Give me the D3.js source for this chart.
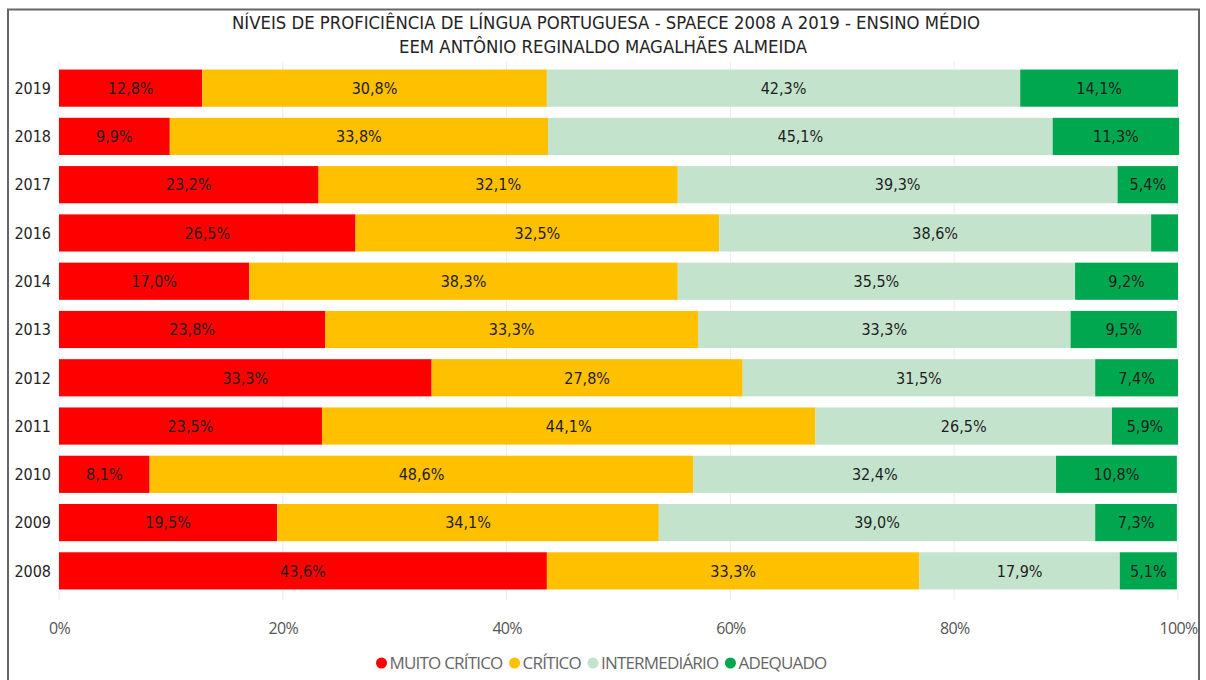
<!DOCTYPE html>
<html>
<head>
<meta charset="utf-8">
<script src="https://cdn.jsdelivr.net/npm/d3@7"></script>
<style>
  body { margin: 0; background: #fff; }
  svg { display: block; }
  .narrow { font-family: "Liberation Sans Narrow", "DejaVu Sans Condensed", "Roboto Condensed", sans-serif; }
</style>
</head>
<body>
<div id="chart"></div>
<script>
const years = ["2019", "2018", "2017", "2016", "2014", "2013", "2012", "2011", "2010", "2009", "2008"];
const levels = ["MUITO CRÍTICO", "CRÍTICO", "INTERMEDIÁRIO", "ADEQUADO"];
const muitoCritico = [12.8, 9.9, 23.2, 26.5, 17.0, 23.8, 33.3, 23.5, 8.1, 19.5, 43.6];
const critico = [30.8, 33.8, 32.1, 32.5, 38.3, 33.3, 27.8, 44.1, 48.6, 34.1, 33.3];
const intermediario = [42.3, 45.1, 39.3, 38.6, 35.5, 33.3, 31.5, 26.5, 32.4, 39.0, 17.9];
const adequado = [14.1, 11.3, 5.4, 2.4, 9.2, 9.5, 7.4, 5.9, 10.8, 7.3, 5.1];
const xTicks = [0, 20, 40, 60, 80, 100];
const colors = ["#fe0000", "#ffc000", "#c3e3cc", "#00a74f"];

const width = 1206, height = 680;

const svg = d3.select("#chart").append("svg")
  .attr("width", width)
  .attr("height", height);

// frame
svg.append("path")
  .attr("d", "M8,680 L8,9.5 L1199,9.5 L1199,680")
  .attr("fill", "none")
  .attr("stroke", "#666")
  .attr("stroke-width", 2);

const table = years.map((y, i) => ({
  year: y,
  "MUITO CRÍTICO": muitoCritico[i],
  "CRÍTICO": critico[i],
  "INTERMEDIÁRIO": intermediario[i],
  "ADEQUADO": adequado[i]
}));

const stacked = d3.stack().keys(levels)(table);

const x = d3.scaleLinear().domain([0, 100]).range([59, 1178]);
const y = d3.scaleBand().domain(years).range([64, 595]).paddingInner(0.23).paddingOuter(0.115);
const color = d3.scaleOrdinal().domain(levels).range(colors);

// grid
svg.append("g")
  .selectAll("line")
  .data(xTicks)
  .enter().append("line")
  .attr("x1", d => x(d))
  .attr("x2", d => x(d))
  .attr("y1", 62)
  .attr("y2", 600)
  .attr("stroke", "#ececec")
  .attr("stroke-width", 1);

// title
svg.append("text")
  .attr("class", "narrow")
  .attr("x", 606)
  .attr("y", 29)
  .attr("text-anchor", "middle")
  .attr("font-size", 18)
  .attr("textLength", 748)
  .attr("lengthAdjust", "spacingAndGlyphs")
  .attr("fill", "#252423")
  .text("NÍVEIS DE PROFICIÊNCIA DE LÍNGUA PORTUGUESA - SPAECE 2008 A 2019 - ENSINO MÉDIO");

svg.append("text")
  .attr("class", "narrow")
  .attr("x", 603)
  .attr("y", 53)
  .attr("text-anchor", "middle")
  .attr("font-size", 18)
  .attr("textLength", 408)
  .attr("lengthAdjust", "spacingAndGlyphs")
  .attr("fill", "#252423")
  .text("EEM ANTÔNIO REGINALDO MAGALHÃES ALMEIDA");

// bars
const layer = svg.append("g")
  .selectAll("g")
  .data(stacked)
  .enter().append("g")
  .attr("fill", d => color(d.key));

layer.selectAll("rect")
  .data(d => d)
  .enter().append("rect")
  .attr("x", d => x(d[0]))
  .attr("y", d => y(d.data.year))
  .attr("width", d => x(d[1]) - x(d[0]))
  .attr("height", y.bandwidth());

// segment labels
layer.selectAll("text")
  .data(d => d.filter(s => s[1] - s[0] >= 4))
  .enter().append("text")
  .attr("class", "narrow")
  .attr("x", d => (x(d[0]) + x(d[1])) / 2)
  .attr("y", d => y(d.data.year) + y.bandwidth() / 2)
  .attr("dy", "0.36em")
  .attr("text-anchor", "middle")
  .attr("font-size", 16)
  .attr("fill", "#1e1e1e")
  .text(d => d3.format(".1f")(d[1] - d[0]).replace(".", ",") + "%");

// y axis labels
svg.append("g")
  .selectAll("text")
  .data(years)
  .enter().append("text")
  .attr("class", "narrow")
  .attr("x", 51)
  .attr("y", d => y(d) + y.bandwidth() / 2)
  .attr("dy", "0.36em")
  .attr("text-anchor", "end")
  .attr("font-size", 16)
  .attr("fill", "#252423")
  .text(d => d);

// x axis
const xAxis = svg.append("g")
  .attr("transform", "translate(0,628)")
  .call(d3.axisBottom(x).tickValues(xTicks).tickFormat(d => d + "%").tickSize(0));
xAxis.select(".domain").remove();
xAxis.selectAll("text")
  .attr("y", 0)
  .attr("dy", "0.35em")
  .attr("font-family", "\"Open Sans\", sans-serif")
  .attr("font-size", 16)
  .attr("fill", "#555")
  .style("letter-spacing", "-0.7px");

// legend (flowed, centred)
const legend = svg.append("g").attr("transform", "translate(0,663)");
let cursor = 0;
const items = legend.selectAll("g")
  .data(levels)
  .enter().append("g");

items.append("circle")
  .attr("r", 5.5)
  .attr("fill", d => color(d));

items.append("text")
  .attr("x", 8)
  .attr("dy", "0.35em")
  .attr("font-family", "\"Open Sans\", sans-serif")
  .attr("font-size", 17)
  .attr("fill", "#666")
  .style("letter-spacing", "-0.8px")
  .text(d => d);

items.each(function() {
  const g = d3.select(this);
  const w = g.select("text").node().getComputedTextLength();
  g.attr("transform", `translate(${cursor},0)`);
  cursor += 8 + w + 12;
});
const totalW = cursor - 12;
legend.attr("transform", `translate(${604 - totalW / 2},663)`);
</script>
</body>
</html>
